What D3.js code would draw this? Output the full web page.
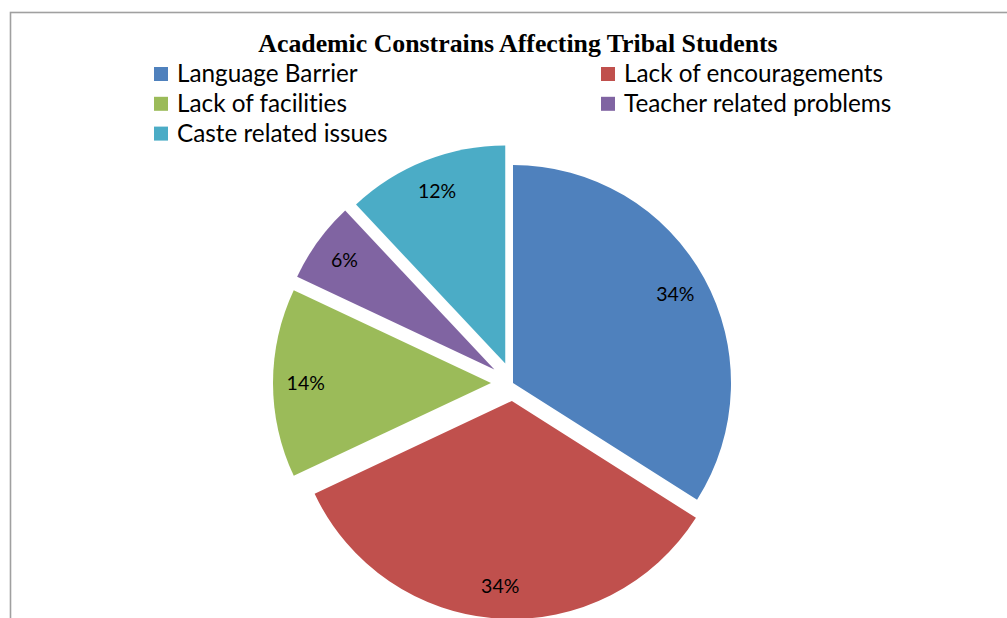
<!DOCTYPE html>
<html>
<head>
<meta charset="utf-8">
<script src="https://cdn.jsdelivr.net/npm/d3@7"></script>
<style>
  body { margin: 0; background: #fff; }
  svg { display: block; }
  text { font-variant-ligatures: none; }
</style>
</head>
<body>
<div id="chart"></div>
<script>
const title = 'Academic Constrains Affecting Tribal Students';
const categories = ['Language Barrier', 'Lack of encouragements', 'Lack of facilities', 'Teacher related problems', 'Caste related issues'];
const shares = [34, 34, 14, 6, 12];
const colors = ['#4F81BD', '#C0504D', '#9BBB59', '#8064A2', '#4BACC6'];

// how far each slice is pulled out from the centre (px)
const explode = [0, 18, 22, 23, 21];

const width = 1007, height = 618;
const cx = 513, cy = 383, radius = 218;

const svg = d3.select('#chart').append('svg')
  .attr('width', width).attr('height', height);

// chart area border (right/bottom run off the page)
svg.append('rect')
  .attr('x', 10.5).attr('y', 12.5)
  .attr('width', width + 20).attr('height', height + 20)
  .attr('fill', 'none').attr('stroke', '#a0a0a0').attr('stroke-width', 1.6);

svg.append('text')
  .attr('x', 518).attr('y', 52)
  .attr('text-anchor', 'middle')
  .attr('font-family', '"Liberation Serif", "Times New Roman", serif')
  .attr('font-weight', 'bold').attr('font-size', 25.8)
  .text(title);

// legend: two columns, filled row by row
const legend = svg.append('g');
const legendItems = legend.selectAll('g.item')
  .data(categories).join('g')
  .attr('class', 'item')
  .attr('transform', (d, i) => `translate(${i % 2 ? 601 : 154},${67 + Math.floor(i / 2) * 29.8})`);

legendItems.append('rect')
  .attr('width', 14).attr('height', 14)
  .attr('fill', (d, i) => colors[i]);

legendItems.append('text')
  .attr('x', 23).attr('y', 15)
  .attr('font-family', 'Lato, "Open Sans", sans-serif')
  .attr('font-size', 24.3).attr('fill', '#000')
  .text(d => d);

const pie = d3.pie().sort(null).value(d => d);
const arcs = pie(shares);
const arc = d3.arc().innerRadius(0).outerRadius(radius);
const labelArc = d3.arc().innerRadius(radius * 0.85).outerRadius(radius * 0.85);

const g = svg.append('g').attr('transform', `translate(${cx},${cy})`);

const offset = (d, i) => {
  const a = (d.startAngle + d.endAngle) / 2;
  return [Math.sin(a) * explode[i], -Math.cos(a) * explode[i]];
};

const slices = g.selectAll('g.slice')
  .data(arcs).join('g')
  .attr('class', 'slice')
  .attr('transform', (d, i) => `translate(${offset(d, i)})`);

slices.append('path')
  .attr('d', arc)
  .attr('fill', (d, i) => colors[i]);

slices.append('text')
  .attr('transform', d => `translate(${labelArc.centroid(d)})`)
  .attr('text-anchor', 'middle').attr('dy', '0.35em')
  .attr('font-family', 'Lato, "Open Sans", sans-serif')
  .attr('font-size', 19.5).attr('fill', '#000')
  .text(d => `${d.data}%`);
</script>
</body>
</html>
